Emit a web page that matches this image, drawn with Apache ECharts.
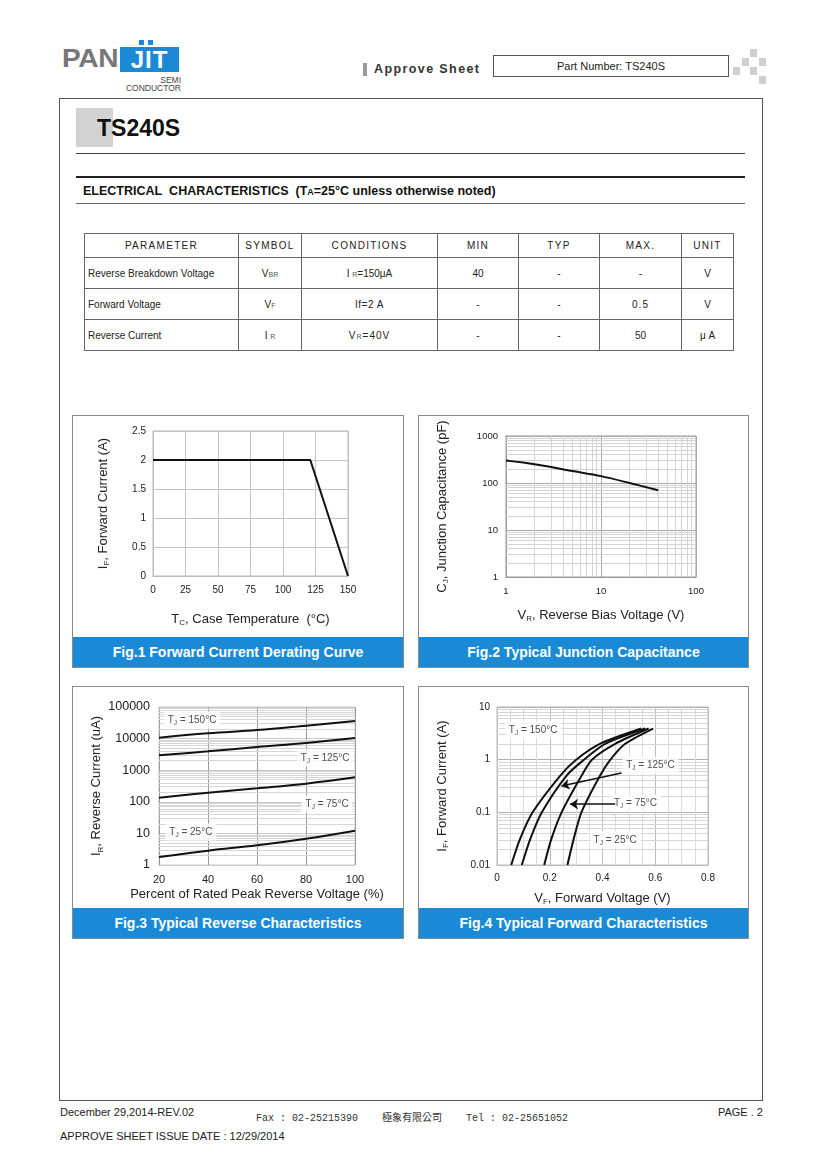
<!DOCTYPE html>
<html><head><meta charset="utf-8">
<script src="https://cdn.jsdelivr.net/npm/echarts@6/dist/echarts.min.js"></script>
<style>
html,body{margin:0;padding:0;background:#fff;}
#page{position:relative;width:820px;height:1160px;background:#fff;font-family:"Liberation Sans",Arial,sans-serif;color:#222;overflow:hidden;}
.abs{position:absolute;}
#chart{position:absolute;left:0;top:0;width:820px;height:1160px;z-index:2;}
table.spec{position:absolute;left:84px;top:233px;border-collapse:collapse;font-size:10px;color:#222;}
table.spec td{border:1px solid #666;text-align:center;padding:0;}
table.spec tr.h td{height:23px;letter-spacing:1.3px;}
table.spec tr.r td{height:30px;}
table.spec td.p{text-align:left;padding-left:3px;}
.sub{font-size:7px;color:#555;}
.figbox{position:absolute;border:1.5px solid #8a8a8a;box-sizing:border-box;}
.banner{position:absolute;left:0;right:0;bottom:0;height:30px;background:#1a8ad6;color:#fff;font-weight:bold;font-size:14px;text-align:center;line-height:30px;}
.sq{position:absolute;width:7px;height:8px;background:#cfcfcf;}
</style></head>
<body>
<div id="page">
  <!-- logo -->
  <div class="abs" style="left:62px;top:44px;font-size:26px;font-weight:bold;color:#777;letter-spacing:-0.3px;line-height:28px;transform:scaleX(1.08);transform-origin:left;">PAN</div>
  <div class="abs" style="left:120px;top:47px;width:59px;height:25px;background:#1a8ad6;color:#fff;font-size:24px;font-weight:bold;line-height:26px;text-align:center;letter-spacing:1px;">JIT</div>
  <div class="abs" style="left:139px;top:40px;width:5px;height:5px;background:#1a8ad6;"></div>
  <div class="abs" style="left:148px;top:40px;width:5px;height:5px;background:#1a8ad6;"></div>
  <div class="abs" style="left:150px;top:76px;width:31px;text-align:right;font-size:8.5px;color:#444;line-height:9px;">SEMI</div>
  <div class="abs" style="left:110px;top:84px;width:71px;text-align:right;font-size:8.5px;color:#444;line-height:9px;">CONDUCTOR</div>
  <!-- approve sheet -->
  <div class="abs" style="left:363px;top:63px;width:4px;height:13px;background:#9a9a9a;"></div>
  <div class="abs" style="left:374px;top:61px;font-size:12.5px;font-weight:bold;letter-spacing:1.4px;color:#333;line-height:16px;">Approve Sheet</div>
  <div class="abs" style="left:493px;top:55px;width:236px;height:22px;border:1px solid #555;box-sizing:border-box;font-size:11px;text-align:center;line-height:20px;color:#222;">Part Number: TS240S</div>
  <div class="sq" style="left:750px;top:49px;"></div>
  <div class="sq" style="left:742px;top:58px;"></div>
  <div class="sq" style="left:759px;top:58px;"></div>
  <div class="sq" style="left:733px;top:67px;"></div>
  <div class="sq" style="left:750px;top:67px;"></div>
  <div class="sq" style="left:759px;top:76px;"></div>
  <!-- page frame -->
  <div class="abs" style="left:59px;top:98px;width:704px;height:1003px;border:1.5px solid #555;box-sizing:border-box;"></div>
  <div class="abs" style="left:76px;top:108px;width:37px;height:39px;background:#d2d2d2;"></div>
  <div class="abs" style="left:97px;top:114px;font-size:23px;font-weight:bold;color:#111;line-height:28px;">TS240S</div>
  <div class="abs" style="left:76px;top:153px;width:669px;height:1px;background:#444;"></div>
  <div class="abs" style="left:76px;top:176px;width:669px;height:2px;background:#222;"></div>
  <div class="abs" style="left:83px;top:184px;font-size:12.5px;font-weight:bold;color:#111;line-height:15px;">ELECTRICAL&nbsp; CHARACTERISTICS&nbsp; (T<span style="font-size:9px;">A</span>=25°C unless otherwise noted)</div>
  <div class="abs" style="left:76px;top:203px;width:669px;height:1px;background:#666;"></div>
  <table class="spec">
    <tr class="h"><td style="width:153px">PARAMETER</td><td style="width:62px">SYMBOL</td><td style="width:135px">CONDITIONS</td><td style="width:80px">MIN</td><td style="width:80px">TYP</td><td style="width:81px">MAX.</td><td style="width:51px">UNIT</td></tr>
    <tr class="r"><td class="p">Reverse Breakdown Voltage</td><td>V<span class="sub">BR</span></td><td>I <span class="sub">R</span>=150μA</td><td>40</td><td>-</td><td>-</td><td>V</td></tr>
    <tr class="r"><td class="p">Forward Voltage</td><td>V<span class="sub">F</span></td><td style="letter-spacing:0.5px">If=2 A</td><td>-</td><td>-</td><td style="letter-spacing:1px">0.5</td><td>V</td></tr>
    <tr class="r"><td class="p">Reverse Current</td><td>I <span class="sub">R</span></td><td style="letter-spacing:1px">V<span class="sub">R</span>=40V</td><td>-</td><td>-</td><td>50</td><td>μ A</td></tr>
  </table>
  <!-- figure boxes -->
  <div class="figbox" style="left:72px;top:415px;width:332px;height:253px;"><div class="banner">Fig.1 Forward Current Derating Curve</div></div>
  <div class="figbox" style="left:418px;top:415px;width:331px;height:253px;"><div class="banner">Fig.2 Typical Junction Capacitance</div></div>
  <div class="figbox" style="left:72px;top:686px;width:332px;height:253px;"><div class="banner">Fig.3 Typical Reverse Characteristics</div></div>
  <div class="figbox" style="left:418px;top:686px;width:331px;height:253px;"><div class="banner">Fig.4 Typical Forward Characteristics</div></div>
  <!-- footer -->
  <div class="abs" style="left:60px;top:1106px;font-size:11px;color:#222;">December 29,2014-REV.02</div>
  <div class="abs" style="left:256px;top:1109px;font-size:10px;color:#333;font-family:'Liberation Mono','DejaVu Sans Mono',monospace;white-space:pre;">Fax : 02-25215390    <span style="font-family:'Noto Sans CJK TC';font-size:10px;">極象有限公司</span>    Tel : 02-25651052</div>
  <div class="abs" style="left:700px;width:63px;text-align:right;top:1106px;font-size:11px;color:#222;">PAGE . 2</div>
  <div class="abs" style="left:60px;top:1130px;font-size:11px;color:#222;">APPROVE SHEET ISSUE DATE : 12/29/2014</div>
  <div id="chart"></div>
</div>
<script>
// ---- Fig.1 data ----
const fig1Temp = [0, 121, 150];
const fig1Current = [2, 2, 0];
// ---- Fig.2 data ----
const fig2Vr = [1, 2, 5, 10, 20, 40];
const fig2Cj = [300, 250, 180, 140, 100, 70];
// ---- Fig.3 data ----
const fig3Pct = [20, 40, 60, 80, 100];
const fig3Ir150 = [10700, 14700, 18700, 25700, 36000];
const fig3Ir125 = [2960, 3950, 5420, 7260, 10400];
const fig3Ir75 = [135, 195, 267, 375, 594];
const fig3Ir25 = [1.79, 2.84, 4.19, 6.8, 12.2];
const fig3Labels = [['150', 33.5, 38900], ['125', 87.8, 2430], ['75', 88.6, 85], ['25', 33, 11]];
// ---- Fig.4 data ----
const fig4I = [0.01, 0.03, 0.1, 0.5, 1, 2, 3.9];
const fig4V150 = [0.054, 0.086, 0.135, 0.24, 0.30, 0.39, 0.547];
const fig4V125 = [0.094, 0.125, 0.17, 0.264, 0.33, 0.41, 0.562];
const fig4V75 = [0.179, 0.205, 0.245, 0.321, 0.36, 0.448, 0.575];
const fig4V25 = [0.267, 0.29, 0.32, 0.391, 0.43, 0.486, 0.592];
const fig4Labels = [['150', 0.137, 3.66], ['125', 0.582, 0.78], ['75', 0.525, 0.149], ['25', 0.448, 0.030]];
const fig4Arrows = [[[0.472, 0.56], [0.244, 0.317]], [[0.448, 0.143], [0.277, 0.143]]];

const zip = (xs, ys) => xs.map((x, i) => [x, ys[i]]);
const minorVals = (decades) => { const out = []; decades.forEach(d => { for (let k = 2; k <= 9; k++) out.push(+(d * k).toPrecision(3)); }); return out; };
const plain = v => String(+v.toPrecision(6));

const chart = echarts.init(document.getElementById('chart'), null, {renderer: 'canvas'});
const nameRich = {a: {fontSize: 13, lineHeight: 16, color: '#222'}, b: {fontSize: 8, lineHeight: 9, verticalAlign: 'bottom', color: '#222'}};
const lblRich = {a: {fontSize: 10, lineHeight: 13, color: '#222'}, b: {fontSize: 6.5, lineHeight: 7, verticalAlign: 'bottom', color: '#222'}};
const tickFont = (s) => ({fontSize: s, color: '#222', fontFamily: 'Liberation Sans'});
const curveStyle = {color: '#111', width: 2};

function gridLines(xi, yi, horiz, vert, color) {
  const data = [];
  horiz.forEach(v => data.push({yAxis: v}));
  vert.forEach(v => data.push({xAxis: v}));
  return {type: 'line', xAxisIndex: xi, yAxisIndex: yi, data: [], z: 1, silent: true,
    markLine: {silent: true, z: 1, symbol: 'none', animation: false, label: {show: false},
      lineStyle: {color: color, width: 1, type: 'solid'}, emphasis: {disabled: true}, data: data}};
}
function labelSeries(xi, yi, labels) {
  return {type: 'scatter', xAxisIndex: xi, yAxisIndex: yi, symbolSize: 0, z: 5, silent: true,
    data: labels.map(l => ({value: [l[1], l[2]], name: l[0]})),
    label: {show: true, position: 'inside', backgroundColor: '#fff', padding: [2, 4],
      formatter: p => '{a|T}{b|J}{a| = ' + p.name + '°C}', rich: lblRich}};
}

const option = {
  animation: false,
  textStyle: {fontFamily: 'Liberation Sans'},
  grid: [
    {left: 153, top: 431, width: 195, height: 145, show: true, borderColor: '#bbb', borderWidth: 1},
    {left: 506, top: 436, width: 190, height: 141, show: true, borderColor: '#999', borderWidth: 1},
    {left: 159, top: 707, width: 196, height: 158, show: true, borderColor: '#ccc', borderWidth: 1},
    {left: 497, top: 707, width: 211, height: 158, show: true, borderColor: '#bbb', borderWidth: 1}
  ],
  xAxis: [
    {gridIndex: 0, type: 'value', min: 0, max: 150, interval: 25,
      axisLine: {lineStyle: {color: '#bbb'}}, axisTick: {show: false},
      axisLabel: Object.assign(tickFont(10), {margin: 9}),
      splitLine: {show: true, lineStyle: {color: '#c4c4c4'}},
      name: '{a|T}{b|C}{a|, Case Temperature  (°C)}', nameLocation: 'middle', nameGap: 35,
      nameTextStyle: {rich: nameRich}},
    {gridIndex: 1, type: 'log', logBase: 10, min: 1, max: 100,
      axisLine: {lineStyle: {color: '#999'}}, axisTick: {show: false},
      axisLabel: Object.assign(tickFont(9.5), {margin: 9, formatter: plain}),
      splitLine: {show: true, lineStyle: {color: '#a8a8a8'}},
      name: '{a|V}{b|R}{a|, Reverse Bias Voltage (V)}', nameLocation: 'middle', nameGap: 30,
      nameTextStyle: {rich: nameRich}},
    {gridIndex: 2, type: 'value', min: 20, max: 100, interval: 20,
      axisLine: {show: false}, axisTick: {show: false},
      axisLabel: Object.assign(tickFont(11), {margin: 9}),
      splitLine: {show: true, lineStyle: {color: '#9a9a9a'}},
      name: 'Percent of Rated Peak Reverse Voltage (%)', nameLocation: 'middle', nameGap: 23,
      nameTextStyle: {fontSize: 13, color: '#222'}},
    {gridIndex: 3, type: 'value', min: 0, max: 0.8, interval: 0.2,
      axisLine: {lineStyle: {color: '#bbb'}}, axisTick: {show: false},
      axisLabel: Object.assign(tickFont(10), {margin: 8}),
      splitLine: {show: true, lineStyle: {color: '#bdbdbd'}},
      minorTick: {show: false, splitNumber: 4},
      minorSplitLine: {show: true, lineStyle: {color: '#dadada'}},
      name: '{a|V}{b|F}{a|, Forward Voltage (V)}', nameLocation: 'middle', nameGap: 25,
      nameTextStyle: {rich: nameRich}}
  ],
  yAxis: [
    {gridIndex: 0, type: 'value', min: 0, max: 2.5, interval: 0.5,
      axisLine: {show: true, lineStyle: {color: '#bbb'}}, axisTick: {show: false},
      axisLabel: Object.assign(tickFont(10), {margin: 7}),
      splitLine: {show: true, lineStyle: {color: '#c4c4c4'}},
      name: '{a|I}{b|F}{a|, Forward Current (A)}', nameLocation: 'middle', nameGap: 42,
      nameTextStyle: {rich: nameRich}},
    {gridIndex: 1, type: 'log', logBase: 10, min: 1, max: 1000,
      axisLine: {show: true, lineStyle: {color: '#999'}}, axisTick: {show: false},
      axisLabel: Object.assign(tickFont(9.5), {margin: 8, formatter: plain}),
      splitLine: {show: true, lineStyle: {color: '#a8a8a8'}},
      name: '{a|C}{b|J}{a|, Junction Capacitance (pF)}', nameLocation: 'middle', nameGap: 56,
      nameTextStyle: {rich: nameRich}},
    {gridIndex: 2, type: 'log', logBase: 10, min: 1, max: 100000,
      axisLine: {show: false}, axisTick: {show: false},
      axisLabel: Object.assign(tickFont(12.5), {margin: 9, formatter: plain}),
      splitLine: {show: true, lineStyle: {color: '#c8c8c8'}},
      name: '{a|I}{b|R}{a|, Reverse Current (uA)}', nameLocation: 'middle', nameGap: 54,
      nameTextStyle: {rich: nameRich}},
    {gridIndex: 3, type: 'log', logBase: 10, min: 0.01, max: 10,
      axisLine: {show: true, lineStyle: {color: '#bbb'}}, axisTick: {show: false},
      axisLabel: Object.assign(tickFont(10), {margin: 7, formatter: plain}),
      splitLine: {show: true, lineStyle: {color: '#b0b0b0'}},
      name: '{a|I}{b|F}{a|, Forward Current (A)}', nameLocation: 'middle', nameGap: 47,
      nameTextStyle: {rich: nameRich}}
  ],
  series: [
    // Fig1
    {type: 'line', xAxisIndex: 0, yAxisIndex: 0, data: zip(fig1Temp, fig1Current), symbol: 'none', lineStyle: curveStyle, z: 3},
    // Fig2
    gridLines(1, 1, minorVals([1, 10, 100]), minorVals([1, 10]), '#d4d4d4'),
    {type: 'line', xAxisIndex: 1, yAxisIndex: 1, data: zip(fig2Vr, fig2Cj), symbol: 'none', smooth: 0.3, lineStyle: curveStyle, z: 3},
    // Fig3
    gridLines(2, 2, minorVals([1, 10, 100, 1000, 10000]), [], '#d6d6d6'),
    {type: 'line', xAxisIndex: 2, yAxisIndex: 2, data: zip(fig3Pct, fig3Ir150), symbol: 'none', smooth: 0.4, lineStyle: curveStyle, z: 3},
    {type: 'line', xAxisIndex: 2, yAxisIndex: 2, data: zip(fig3Pct, fig3Ir125), symbol: 'none', smooth: 0.4, lineStyle: curveStyle, z: 3},
    {type: 'line', xAxisIndex: 2, yAxisIndex: 2, data: zip(fig3Pct, fig3Ir75), symbol: 'none', smooth: 0.4, lineStyle: curveStyle, z: 3},
    {type: 'line', xAxisIndex: 2, yAxisIndex: 2, data: zip(fig3Pct, fig3Ir25), symbol: 'none', smooth: 0.4, lineStyle: curveStyle, z: 3},
    labelSeries(2, 2, fig3Labels),
    // Fig4
    gridLines(3, 3, minorVals([0.01, 0.1, 1]), [], '#d6d6d6'),
    {type: 'line', xAxisIndex: 3, yAxisIndex: 3, data: zip(fig4V150, fig4I), symbol: 'none', smooth: 0.25, lineStyle: curveStyle, z: 3},
    {type: 'line', xAxisIndex: 3, yAxisIndex: 3, data: zip(fig4V125, fig4I), symbol: 'none', smooth: 0.25, lineStyle: curveStyle, z: 3},
    {type: 'line', xAxisIndex: 3, yAxisIndex: 3, data: zip(fig4V75, fig4I), symbol: 'none', smooth: 0.25, lineStyle: curveStyle, z: 3},
    {type: 'line', xAxisIndex: 3, yAxisIndex: 3, data: zip(fig4V25, fig4I), symbol: 'none', smooth: 0.25, lineStyle: curveStyle, z: 3},
    Object.assign(labelSeries(3, 3, fig4Labels), {
      markLine: {silent: true, z: 6, symbol: ['none', 'arrow'], symbolSize: 8, label: {show: false},
        lineStyle: {color: '#111', width: 1.5, type: 'solid'},
        data: fig4Arrows.map(a => [{coord: a[0]}, {coord: a[1]}])}
    })
  ]
};
chart.setOption(option);
</script>
</body></html>
